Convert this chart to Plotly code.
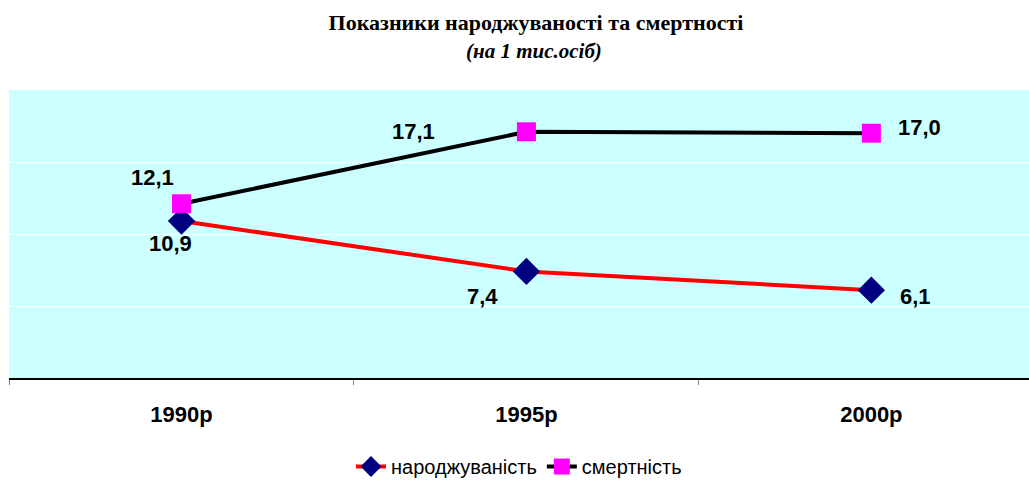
import plotly.graph_objects as go

years = ["1990р", "1995р", "2000р"]
births = [10.9, 7.4, 6.1]
deaths = [12.1, 17.1, 17.0]
birth_name = "народжуваність"
death_name = "смертність"

def fmt(v):
    return f"{v:.1f}".replace(".", ",")

fig = go.Figure()
fig.add_trace(go.Scatter(
    x=years, y=births, name=birth_name, mode="lines+markers",
    line=dict(color="#FF0000", width=4),
    marker=dict(symbol="diamond", size=21, color="#000080", line=dict(width=0)),
))
fig.add_trace(go.Scatter(
    x=years, y=deaths, name=death_name, mode="lines+markers",
    line=dict(color="#000000", width=4),
    marker=dict(symbol="square", size=19, color="#FF00FF", line=dict(width=0)),
))

birth_shifts = [(-11, -22), (-44, -25), (44, -6)]
death_shifts = [(-29, 26), (-113, 0), (48, 6)]
lab_font = dict(family="Liberation Sans, Arial", size=22, color="#000000")
for x, v, (dx, dy) in zip(years, births, birth_shifts):
    fig.add_annotation(x=x, y=v, text=f"<b>{fmt(v)}</b>", showarrow=False,
                       xshift=dx, yshift=dy, font=lab_font)
for x, v, (dx, dy) in zip(years, deaths, death_shifts):
    fig.add_annotation(x=x, y=v, text=f"<b>{fmt(v)}</b>", showarrow=False,
                       xshift=dx, yshift=dy, font=lab_font)

fig.add_annotation(xref="paper", yref="paper", x=(534 - 9) / 1020, y=(382 - 50) / 292,
                   text="<b><i>(на 1 тис.осіб)</i></b>", showarrow=False,
                   font=dict(family="Liberation Serif, Times New Roman", size=21, color="#000000"),
                   yanchor="middle")

fig.update_layout(
    width=1029, height=486,
    margin=dict(l=9, r=0, t=90, b=104),
    paper_bgcolor="#FFFFFF", plot_bgcolor="#CCFFFF",
    title=dict(text="<b>Показники народжуваності та смертності</b>",
               x=536 / 1029, xanchor="center", yref="container", y=1 - 22 / 486,
               yanchor="middle",
               font=dict(family="Liberation Serif, Times New Roman", size=22, color="#000000")),
    showlegend=True,
    legend=dict(orientation="h", x=(519 - 9) / 1020, xanchor="center", y=(382 - 472) / 292,
                yanchor="middle", font=dict(family="Liberation Sans, Arial", size=20, color="#000000"),
                bgcolor="rgba(0,0,0,0)", itemwidth=30),
    xaxis=dict(type="category", range=[-0.5, 2.457], showgrid=False,
               showline=True, linecolor="#000000", linewidth=1.5,
               ticks="outside", ticklen=5, tickcolor="#808080", tickson="boundaries",
               tickfont=dict(family="Liberation Sans, Arial", size=22, color="#000000"),
               ticklabelstandoff=16, tickprefix="<b>", ticksuffix="</b>"),
    yaxis=dict(range=[0, 20], dtick=5, showgrid=True, gridcolor="#FFFFFF", gridwidth=1.2,
               showticklabels=False, zeroline=False, showline=False, ticks=""),
)

fig.write_html("out.html", config={"displayModeBar": False},
               post_script="document.body.style.margin='0';document.body.style.padding='0';")
